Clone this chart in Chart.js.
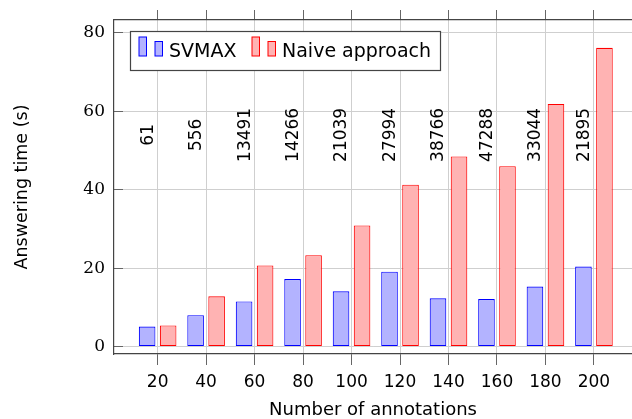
<!DOCTYPE html>
<html>
<head>
<meta charset="utf-8">
<script src="https://cdn.jsdelivr.net/npm/chart.js@4"></script>
<style>
  html, body { margin: 0; padding: 0; background: #fff; }
  canvas { display: block; }
</style>
</head>
<body>
<canvas id="chart" width="632" height="419"></canvas>
<script>
// values
var annotations = [20, 40, 60, 80, 100, 120, 140, 160, 180, 200];
var svmaxTimes  = [5.1, 8.0, 11.5, 17.2, 14.1, 19.1, 12.3, 12.1, 15.3, 20.4];
var naiveTimes  = [5.4, 12.8, 20.7, 23.3, 30.9, 41.3, 48.5, 46.0, 61.9, 76.2];
var counts      = [61, 556, 13491, 14266, 21039, 27994, 38766, 47288, 33044, 21895];
var yTicks      = [0, 20, 40, 60, 80];

var sans = "'DejaVu Sans', sans-serif";
var frameColor = '#444';
var gridColor = '#cfcfcf';
var tickColor = '#666';

function pairs(vals) {
  return annotations.map(function (a, i) { return {x: a, y: vals[i]}; });
}
function xTicks(scale) {
  scale.ticks = annotations.map(function (v) { return {value: v}; });
}
// no extra room for half labels at the ends of an axis
function noPad(scale) {
  scale.paddingTop = scale.paddingBottom = 0;
  scale.paddingLeft = scale.paddingRight = 0;
}

// rotated count labels above the SVMAX bars
var countLabels = {
  id: 'countLabels',
  afterDatasetsDraw: function (chart) {
    var ctx = chart.ctx;
    var meta = chart.getDatasetMeta(0);
    var y = chart.scales.y.getPixelForValue(54);
    ctx.save();
    ctx.font = '17px ' + sans;
    ctx.fillStyle = '#000';
    ctx.textAlign = 'center';
    ctx.textBaseline = 'middle';
    meta.data.forEach(function (bar, i) {
      ctx.save();
      ctx.translate(bar.x + 1, y);
      ctx.rotate(-Math.PI / 2);
      ctx.fillText(String(counts[i]), 0, 0);
      ctx.restore();
    });
    ctx.restore();
  }
};

// pgfplots style legend box with two little bars per entry
var boxLegend = {
  id: 'boxLegend',
  afterDraw: function (chart) {
    var ctx = chart.ctx;
    var a = chart.chartArea;
    var left = a.left + 16.5, top = a.top + 11.5;
    var entryX = [8.5, 121.5];
    ctx.save();
    ctx.fillStyle = '#fff';
    ctx.fillRect(left, top, 310, 39);
    ctx.strokeStyle = frameColor;
    ctx.lineWidth = 1.2;
    ctx.strokeRect(left, top, 310, 39);
    ctx.font = '19px ' + sans;
    ctx.textBaseline = 'alphabetic';
    chart.data.datasets.forEach(function (ds, i) {
      var x = left + entryX[i];
      ctx.fillStyle = ds.backgroundColor;
      ctx.strokeStyle = ds.borderColor;
      ctx.lineWidth = 1;
      ctx.fillRect(x, top + 5.5, 7.5, 19);
      ctx.strokeRect(x, top + 5.5, 7.5, 19);
      ctx.fillRect(x + 16, top + 10, 7.5, 14.5);
      ctx.strokeRect(x + 16, top + 10, 7.5, 14.5);
      ctx.fillStyle = '#000';
      ctx.fillText(ds.label, x + 30, top + 25);
    });
    ctx.restore();
  }
};

new Chart(document.getElementById('chart'), {
  type: 'bar',
  data: {
    datasets: [{
      label: 'SVMAX',
      data: pairs(svmaxTimes),
      backgroundColor: '#b3b3ff',
      borderColor: '#0000ff',
      borderWidth: 1.1,
      borderSkipped: false
    }, {
      label: 'Naive approach',
      data: pairs(naiveTimes),
      backgroundColor: '#ffb3b3',
      borderColor: '#ff0000',
      borderWidth: 1.1,
      borderSkipped: false
    }]
  },
  options: {
    responsive: false,
    animation: false,
    layout: {padding: 0},
    categoryPercentage: 0.867,
    barPercentage: 0.79,
    plugins: {
      legend: {display: false},
      tooltip: {enabled: false}
    },
    scales: {
      x: {
        type: 'linear',
        position: 'bottom',
        offset: false,
        min: 2,
        max: 215.7,
        afterBuildTicks: xTicks,
        afterFit: function (s) { noPad(s); s.height = 65; },
        grid: {offset: false, color: gridColor, tickColor: tickColor, tickLength: 11},
        border: {color: frameColor, width: 1.2},
        ticks: {color: '#000', font: {family: sans, size: 17}, padding: 7, maxRotation: 0},
        title: {
          display: true,
          text: 'Number of annotations',
          color: '#000',
          font: {family: sans, size: 18, lineHeight: 1},
          padding: {top: 0, bottom: 0}
        }
      },
      x2: {
        type: 'linear',
        position: 'top',
        offset: false,
        min: 2,
        max: 215.7,
        afterBuildTicks: xTicks,
        afterFit: function (s) { noPad(s); s.height = 20; },
        grid: {offset: false, drawOnChartArea: false, tickColor: tickColor, tickLength: 10},
        border: {color: frameColor, width: 1.2},
        ticks: {display: false}
      },
      y: {
        min: -1.9,
        max: 83.3,
        afterBuildTicks: function (s) {
          s.ticks = yTicks.map(function (v) { return {value: v}; });
        },
        afterFit: function (s) { noPad(s); s.width = 114; },
        grid: {color: gridColor, tickColor: tickColor, tickLength: -9},
        border: {color: frameColor, width: 1.2},
        ticks: {color: '#000', font: {family: "'DejaVu Serif', serif", size: 17}, padding: 18},
        title: {
          display: true,
          text: 'Answering time (s)',
          color: '#000',
          font: {family: sans, size: 17.5},
          padding: {top: 12, bottom: 0}
        }
      }
    }
  },
  plugins: [countLabels, boxLegend]
});
</script>
</body>
</html>
